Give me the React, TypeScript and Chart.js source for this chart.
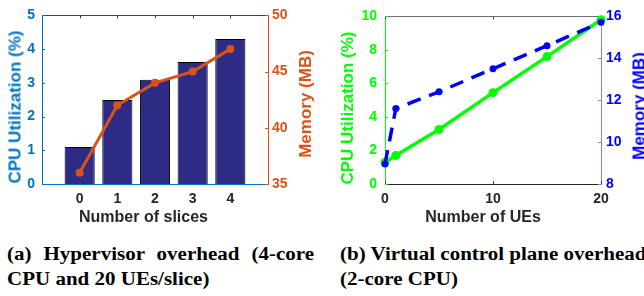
import React, { useEffect, useRef } from 'react';
import { Chart, registerables } from 'chart.js';

Chart.register(...registerables);

// ---- Data: (a) Hypervisor overhead ----
const slices = [0, 1, 2, 3, 4];
const cpuHypervisor = [1.1, 2.49, 3.09, 3.62, 4.3];
const memHypervisor = [36, 42, 44, 45, 47];

// ---- Data: (b) Virtual control plane overhead ----
const ues = [0, 1, 5, 10, 15, 20];
const cpuControl = [1.3, 1.7, 3.25, 5.45, 7.6, 9.8];
const memControl = [8.96, 11.6, 12.4, 13.5, 14.6, 15.72];

const BLUE_A = '#0072BD';
const ORANGE = '#D95319';
const NAVY = '#2D2B83';
const GREEN = '#00FF00';
const BLUE = '#0000FF';
const AXIS_DARK = '#262626';

const SANS = '"Liberation Sans", Arial, Helvetica, sans-serif';
const SERIF = '"Liberation Serif", "Times New Roman", Times, serif';
const tickFont = { family: SANS, size: 14, weight: 'bold' as const };

const framePlugin = {
  id: 'frame',
  beforeDatasetsDraw(chart: any, _args: any, opts: any) {
    const { ctx, chartArea: a } = chart;
    const L = 3;
    ctx.save();
    ctx.lineWidth = 1;
    ctx.strokeStyle = opts.topColor;
    ctx.beginPath();
    ctx.moveTo(a.left, Math.round(a.top) + 0.5);
    ctx.lineTo(a.right, Math.round(a.top) + 0.5);
    ctx.stroke();
    const line = (x1: number, y1: number, x2: number, y2: number) => {
      ctx.beginPath();
      ctx.moveTo(x1, y1);
      ctx.lineTo(x2, y2);
      ctx.stroke();
    };
    Object.keys(chart.scales).forEach((id) => {
      const s = chart.scales[id];
      ctx.strokeStyle = (opts.tickColors && opts.tickColors[id]) || AXIS_DARK;
      s.ticks.forEach((t: any) => {
        const p = Math.round(s.getPixelForValue(t.value)) + 0.5;
        if (s.isHorizontal()) {
          line(p, a.top, p, a.top + L);
          line(p, a.bottom, p, a.bottom - L);
        } else if (s.position === 'left') {
          line(a.left, p, a.left + L, p);
        } else {
          line(a.right, p, a.right - L, p);
        }
      });
    });
    ctx.restore();
  },
};

function HypervisorChart() {
  const ref = useRef<HTMLCanvasElement | null>(null);
  useEffect(() => {
    if (!ref.current) return;
    const chart = new Chart(ref.current, {
      type: 'bar',
      data: {
        datasets: [
          {
            type: 'line',
            data: slices.map((x, i) => ({ x, y: memHypervisor[i] })),
            yAxisID: 'y1',
            borderColor: ORANGE,
            backgroundColor: ORANGE,
            borderWidth: 3,
            pointRadius: 4,
            pointBackgroundColor: ORANGE,
            pointBorderWidth: 0,
            tension: 0,
            order: 0,
            clip: false as any,
          } as any,
          {
            type: 'bar',
            data: slices.map((x, i) => ({ x, y: cpuHypervisor[i] })),
            yAxisID: 'y',
            backgroundColor: NAVY,
            borderColor: '#000000',
            borderWidth: 1,
            barPercentage: 0.8,
            categoryPercentage: 1,
            order: 1,
          } as any,
        ],
      },
      options: {
        animation: false,
        responsive: false,
        events: [],
        layout: { padding: { top: 10, left: 0, right: 0, bottom: 0 } },
        plugins: {
          legend: { display: false },
          tooltip: { enabled: false },
          frame: { topColor: '#404040', tickColors: { x: '#404040', y: BLUE_A, y1: ORANGE } },
        } as any,
        scales: {
          x: {
            type: 'linear',
            min: -1,
            max: 5,
            offset: false,
            afterBuildTicks: (s: any) => {
              s.ticks = slices.map((v) => ({ value: v }));
            },
            grid: { display: false, drawTicks: false },
            border: { display: true, color: BLUE_A, width: 1 },
            ticks: { color: AXIS_DARK, font: tickFont, padding: 7, maxRotation: 0, autoSkip: false },
            afterFit: (s: any) => {
              s.height = 46;
            },
          },
          y: {
            type: 'linear',
            position: 'left',
            min: 0,
            max: 5,
            grid: { display: false, drawTicks: false },
            border: { display: true, color: BLUE_A, width: 1 },
            ticks: { stepSize: 1, color: BLUE_A, font: tickFont, padding: 7 },
            afterFit: (s: any) => {
              s.width = 42;
            },
          },
          y1: {
            type: 'linear',
            position: 'right',
            min: 35,
            max: 50,
            grid: { display: false, drawTicks: false },
            border: { display: true, color: ORANGE, width: 1 },
            ticks: { stepSize: 5, color: ORANGE, font: tickFont, padding: 4 },
            afterFit: (s: any) => {
              s.width = 54;
            },
          },
        } as any,
      },
      plugins: [framePlugin],
    });
    return () => chart.destroy();
  }, []);
  return (
    <canvas
      ref={ref}
      width={322}
      height={230}
      style={{ position: 'absolute', left: 0, top: 0, width: 322, height: 230 }}
    />
  );
}

function ControlPlaneChart() {
  const ref = useRef<HTMLCanvasElement | null>(null);
  useEffect(() => {
    if (!ref.current) return;
    const chart = new Chart(ref.current, {
      type: 'line',
      data: {
        datasets: [
          {
            data: ues.map((x, i) => ({ x, y: memControl[i] })),
            yAxisID: 'y1',
            borderColor: BLUE,
            backgroundColor: BLUE,
            borderWidth: 3.5,
            borderDash: [14, 9],
            pointRadius: 3.5,
            pointBackgroundColor: BLUE,
            pointBorderWidth: 0,
            tension: 0,
            order: 0,
            clip: false as any,
          } as any,
          {
            data: ues.map((x, i) => ({ x, y: cpuControl[i] })),
            yAxisID: 'y',
            borderColor: GREEN,
            backgroundColor: GREEN,
            borderWidth: 3.5,
            pointRadius: 4.5,
            pointBackgroundColor: GREEN,
            pointBorderWidth: 0,
            tension: 0,
            order: 1,
            clip: false as any,
          } as any,
        ],
      },
      options: {
        animation: false,
        responsive: false,
        events: [],
        layout: { padding: { top: 12, left: 0, right: 0, bottom: 0 } },
        plugins: {
          legend: { display: false },
          tooltip: { enabled: false },
          frame: { topColor: '#707070', tickColors: { x: '#404040', y: GREEN, y1: '#8080FF' } },
        } as any,
        scales: {
          x: {
            type: 'linear',
            min: 0,
            max: 20,
            grid: { display: false, drawTicks: false },
            border: { display: true, color: AXIS_DARK, width: 1 },
            ticks: { stepSize: 10, color: AXIS_DARK, font: tickFont, padding: 7, maxRotation: 0, autoSkip: false },
            afterFit: (s: any) => {
              s.height = 46;
            },
          },
          y: {
            type: 'linear',
            position: 'left',
            min: 0,
            max: 10,
            grid: { display: false, drawTicks: false },
            border: { display: true, color: GREEN, width: 1 },
            ticks: { stepSize: 2, color: GREEN, font: tickFont, padding: 8 },
            afterFit: (s: any) => {
              s.width = 63;
            },
          },
          y1: {
            type: 'linear',
            position: 'right',
            min: 8,
            max: 16,
            grid: { display: false, drawTicks: false },
            border: { display: true, color: '#8080FF', width: 1 },
            ticks: { stepSize: 2, color: BLUE, font: tickFont, padding: 5 },
            afterFit: (s: any) => {
              s.width = 43;
            },
          },
        } as any,
      },
      plugins: [framePlugin],
    });
    return () => chart.destroy();
  }, []);
  return (
    <canvas
      ref={ref}
      width={322}
      height={230}
      style={{ position: 'absolute', left: 322, top: 0, width: 322, height: 230 }}
    />
  );
}

function VTitle({ text, cx, cy, color }: { text: string; cx: number; cy: number; color: string }) {
  return (
    <div
      style={{
        position: 'absolute',
        left: cx,
        top: cy,
        transform: 'translate(-50%, -50%) rotate(-90deg)',
        whiteSpace: 'nowrap',
        font: `bold 17px ${SANS}`,
        lineHeight: '17px',
        color,
      }}
    >
      {text}
    </div>
  );
}

function HTitle({ text, cx, cy, color }: { text: string; cx: number; cy: number; color: string }) {
  return (
    <div
      style={{
        position: 'absolute',
        left: cx,
        top: cy,
        transform: 'translate(-50%, -50%)',
        whiteSpace: 'nowrap',
        font: `bold 16px ${SANS}`,
        lineHeight: '16px',
        color,
      }}
    >
      {text}
    </div>
  );
}

const captionStyle: React.CSSProperties = {
  position: 'absolute',
  top: 240.7,
  font: `bold 21px ${SERIF}`,
  lineHeight: '30px',
  transform: 'scaleY(0.85)',
  transformOrigin: 'top left',
  color: '#000',
};

export default function App() {
  return (
    <div
      style={{
        position: 'fixed',
        left: 0,
        top: 0,
        width: 644,
        height: 296,
        overflow: 'hidden',
        background: '#ffffff',
      }}
    >
      <HypervisorChart />
      <ControlPlaneChart />
      <VTitle text="CPU Utilization (%)" cx={15} cy={107} color={BLUE_A} />
      <VTitle text="Memory (MB)" cx={305} cy={104} color={ORANGE} />
      <VTitle text="CPU Utilization (%)" cx={347} cy={108} color={GREEN} />
      <VTitle text="Memory (MB)" cx={639} cy={106} color={BLUE} />
      <HTitle text="Number of slices" cx={143.5} cy={216.5} color={AXIS_DARK} />
      <HTitle text="Number of UEs" cx={483} cy={216.5} color={AXIS_DARK} />
      <div style={{ ...captionStyle, left: 7, width: 307 }}>
        <div style={{ textAlign: 'justify', textAlignLast: 'justify' }}>(a) Hypervisor overhead (4-core</div>
        <div>CPU and 20 UEs/slice)</div>
      </div>
      <div style={{ ...captionStyle, left: 340, whiteSpace: 'nowrap' }}>
        <div>(b) Virtual control plane overhead</div>
        <div>(2-core CPU)</div>
      </div>
    </div>
  );
}
